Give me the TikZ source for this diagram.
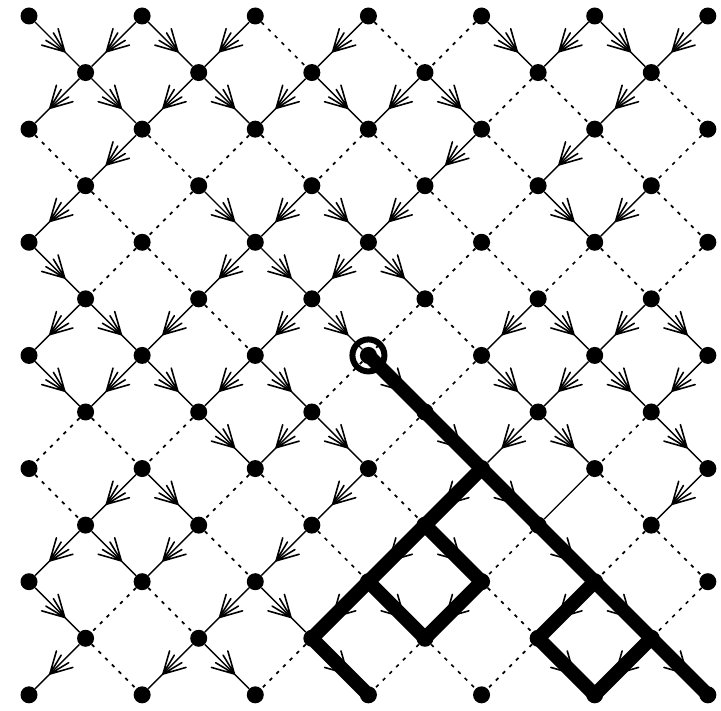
\documentclass[tikz,border=0pt]{standalone}
\usepackage{tikz}
\usetikzlibrary{decorations.markings}
\definecolor{ink}{HTML}{000000}
\tikzset{
  site/.style={circle, fill=ink, inner sep=0pt, minimum size=17pt},
  seed/.style={circle, draw=ink, line width=6pt, inner sep=0pt, minimum size=32pt},
  % barbs sit two thirds down an open bond, fanned back toward its upper end
  barbed/.style={postaction={decorate, decoration={markings, mark=at position #1 with {
    \draw[ink, solid, line width=1.6pt, line cap=round, shorten <=0pt, shorten >=0pt]
      (0,0) -- (151:24pt) (0,0) -- (209:24pt) (0,0) -- (166:22pt) (0,0) -- (194:22pt);}}}},
  bondA/.style={draw=ink, line width=1.4pt, barbed=0.67},
  bondD/.style={draw=ink, line width=1.7pt, dash pattern=on 3.5pt off 6pt},
  bondP/.style={draw=ink, line width=1.1pt},
  bondT/.style={draw=ink, line width=14pt, line cap=round, shorten <=-8pt, shorten >=-8pt, barbed=0.67},
}
\begin{document}
\begin{tikzpicture}[x=1pt, y=-1pt]
  \useasboundingbox (0,0) rectangle (721,711);
  % lattice sites, every other point of a 13 x 13 grid
  \foreach \row in {0,...,12}
    \foreach \col in {0,...,12}{
      \ifodd\numexpr\col+\row\relax\else
        \node[site] (n-\col-\row) at ({29+56.57*\col},{16+56.57*\row}) {};
      \fi
    }
  % bonds from row r down to row r+1, left to right: A open, D closed, T cluster, P faint
  \foreach \row/\kinds in {
      0/{A,A,A,A,D,A,D,D,A,A,A,A},
      1/{A,A,A,A,A,A,A,A,D,D,A,D},
      2/{D,A,D,D,D,D,D,A,D,A,D,D},
      3/{A,D,D,A,A,A,A,D,D,A,A,D},
      4/{A,D,D,A,A,A,A,D,D,D,D,D},
      5/{A,A,A,D,A,A,D,D,A,A,A,A},
      6/{A,A,A,A,A,D,T,D,A,A,A,A},
      7/{D,D,D,A,A,A,D,T,A,A,D,A},
      8/{D,A,A,D,D,A,D,T,T,P,D,A},
      9/{A,A,A,D,A,D,T,T,D,T,D,D},
      10/{A,D,D,A,A,T,T,T,D,T,T,D},
      11/{A,D,A,A,D,T,D,D,D,T,T,T}}{
    \pgfmathtruncatemacro\below{\row+1}
    \foreach \kind [count=\col from 0] in \kinds{
      \pgfmathtruncatemacro\next{\col+1}
      \ifodd\numexpr\col+\row\relax
        \draw[bond\kind] (n-\next-\row) -- (n-\col-\below);
      \else
        \draw[bond\kind] (n-\col-\row) -- (n-\next-\below);
      \fi
    }
  }
  % seed of the cluster
  \node[seed] (seed) at (n-6-6) {};
\end{tikzpicture}
\end{document}
